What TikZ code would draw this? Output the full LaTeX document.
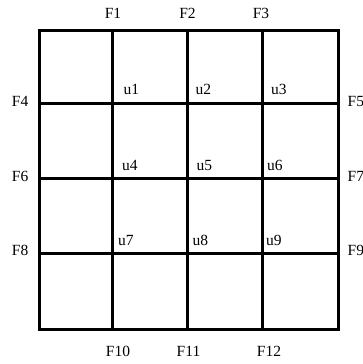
\documentclass[tikz,border=0pt]{standalone}
\usepackage{fontspec}
\setmainfont{Liberation Serif}
\usetikzlibrary{calc}

\begin{document}
\begin{tikzpicture}[
        board/.style={
                draw,
                line width=3pt,
                minimum width=4*\cell,
                minimum height=4*\cell,
                inner sep=0pt
            },
        gridline/.style={line width=3pt},
        flabel/.style={
                font=\fontsize{15.5pt}{18pt}\selectfont,
                inner sep=0pt
            },
        ulabel/.style={
                font=\fontsize{15.5pt}{18pt}\selectfont,
                inner sep=0pt,
                anchor=base west
            }
    ]

    % ---- Sizes ----
    \def\cell{74.5pt}
    \def\gapF{16pt}   % labels above and below
    \def\lift{9pt}    % u labels over the lines

    \useasboundingbox (-189pt,-184pt) rectangle (173pt,180pt);

    % ---- Board ----
    \node[board] (board) at (0,0) {};

    % inner lines
    \draw[gridline] ($(board.north west)+(1*\cell,0)$) -- ($(board.south west)+(1*\cell,0)$);
    \draw[gridline] ($(board.north west)+(2*\cell,0)$) -- ($(board.south west)+(2*\cell,0)$);
    \draw[gridline] ($(board.north west)+(3*\cell,0)$) -- ($(board.south west)+(3*\cell,0)$);
    \draw[gridline] ($(board.north west)+(0,-1*\cell)$) -- ($(board.north east)+(0,-1*\cell)$);
    \draw[gridline] ($(board.north west)+(0,-2*\cell)$) -- ($(board.north east)+(0,-2*\cell)$);
    \draw[gridline] ($(board.north west)+(0,-3*\cell)$) -- ($(board.north east)+(0,-3*\cell)$);

    % ---- Top labels ----
    \node[flabel] (f1) at ($(board.north west)+(1*\cell,\gapF)$) {F1};
    \node[flabel] (f2) at ($(board.north west)+(2*\cell,\gapF)$) {F2};
    \node[flabel] (f3) at ($(board.north west)+(3*\cell-1pt,\gapF)$) {F3};

    % ---- Left and right labels ----
    \node[flabel, anchor=east] (f4) at ($(board.north west)+(-10pt,-1*\cell+2.5pt)$) {F4};
    \node[flabel, anchor=west] (f5) at ($(board.north east)+(8pt,-1*\cell+2.5pt)$) {F5};
    \node[flabel, anchor=east] (f6) at ($(board.north west)+(-10pt,-2*\cell+2pt)$) {F6};
    \node[flabel, anchor=west] (f7) at ($(board.north east)+(8pt,-2*\cell+2pt)$) {F7};
    \node[flabel, anchor=east] (f8) at ($(board.north west)+(-10pt,-3*\cell+2.5pt)$) {F8};
    \node[flabel, anchor=west] (f9) at ($(board.north east)+(8pt,-3*\cell+2.5pt)$) {F9};

    % ---- Bottom labels ----
    \node[flabel] (f10) at ($(board.south west)+(1*\cell+5pt,-21pt)$) {F10};
    \node[flabel] (f11) at ($(board.south west)+(2*\cell+1pt,-21pt)$) {F11};
    \node[flabel] (f12) at ($(board.south west)+(3*\cell+7pt,-21pt)$) {F12};

    % ---- Inner crossings ----
    \node[ulabel] (u1) at ($(board.north west)+(1*\cell+10.5pt,-1*\cell+\lift)$) {u1};
    \node[ulabel] (u2) at ($(board.north west)+(2*\cell+8pt,-1*\cell+\lift)$) {u2};
    \node[ulabel] (u3) at ($(board.north west)+(3*\cell+9pt,-1*\cell+\lift)$) {u3};
    \node[ulabel] (u4) at ($(board.north west)+(1*\cell+9pt,-2*\cell+8pt)$) {u4};
    \node[ulabel] (u5) at ($(board.north west)+(2*\cell+9pt,-2*\cell+8pt)$) {u5};
    \node[ulabel] (u6) at ($(board.north west)+(3*\cell+5pt,-2*\cell+8pt)$) {u6};
    \node[ulabel] (u7) at ($(board.north west)+(1*\cell+5pt,-3*\cell+8pt)$) {u7};
    \node[ulabel] (u8) at ($(board.north west)+(2*\cell+5pt,-3*\cell+8pt)$) {u8};
    \node[ulabel] (u9) at ($(board.north west)+(3*\cell+4pt,-3*\cell+8pt)$) {u9};
\end{tikzpicture}
\end{document}
